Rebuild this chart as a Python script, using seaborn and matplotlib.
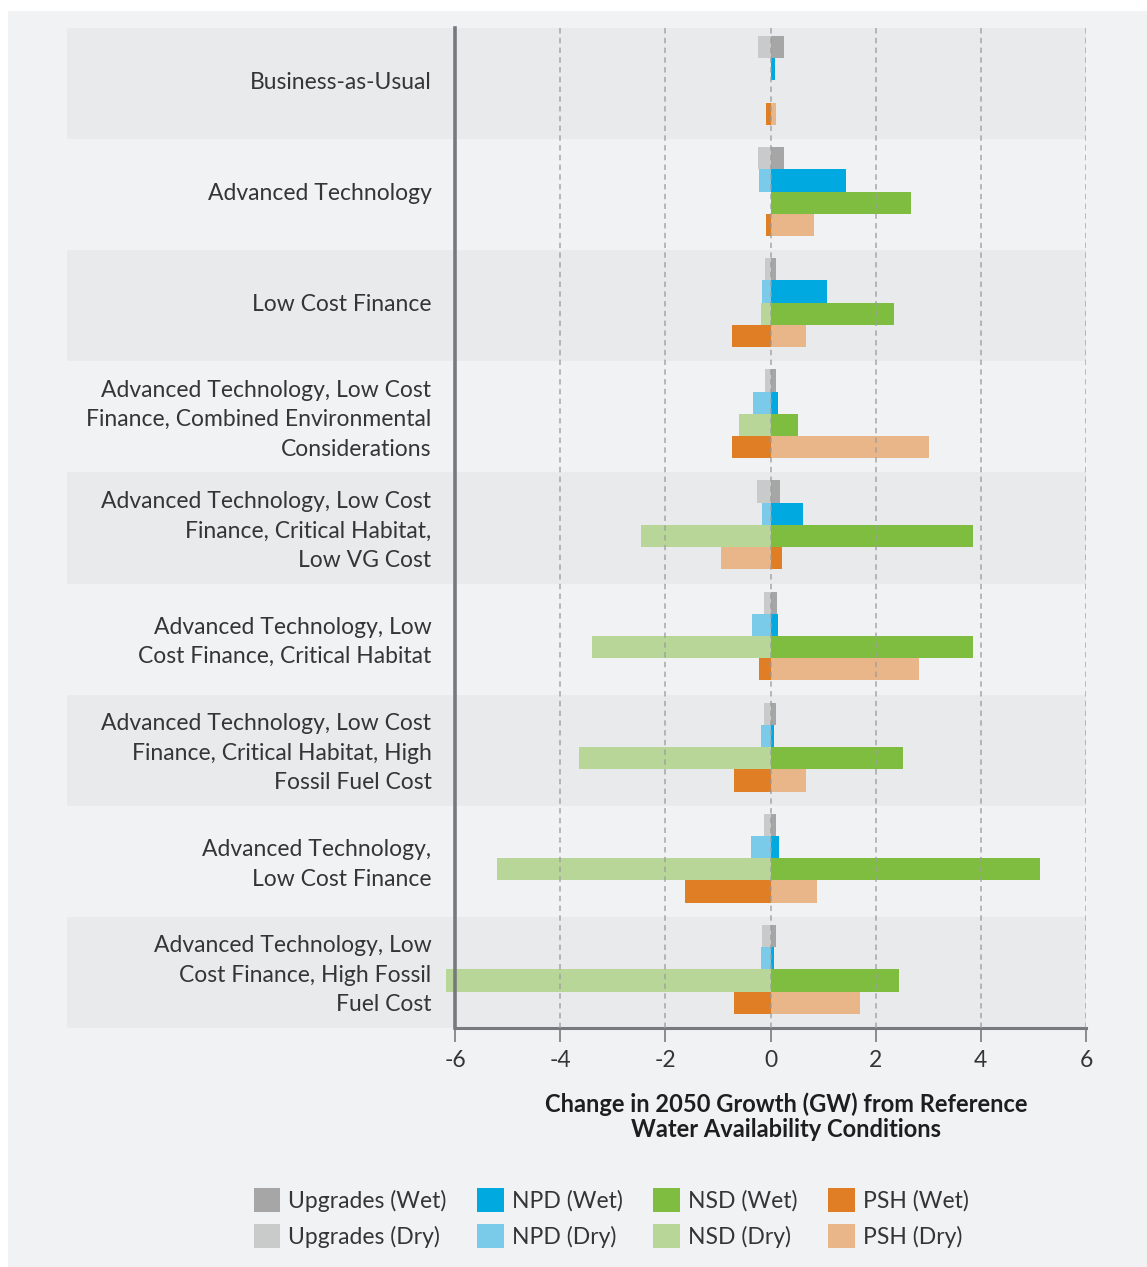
import numpy as np
import pandas as pd
import matplotlib
matplotlib.use("Agg")
import matplotlib.pyplot as plt
import seaborn as sns
from matplotlib.patches import Patch, Rectangle

# ---------------- data ----------------
scenarios = [
    "Business-as-Usual",
    "Advanced Technology",
    "Low Cost Finance",
    "Advanced Technology, Low Cost\nFinance, Combined Environmental\nConsiderations",
    "Advanced Technology, Low Cost\nFinance, Critical Habitat,\nLow VG Cost",
    "Advanced Technology, Low\nCost Finance, Critical Habitat",
    "Advanced Technology, Low Cost\nFinance, Critical Habitat, High\nFossil Fuel Cost",
    "Advanced Technology,\nLow Cost Finance",
    "Advanced Technology, Low\nCost Finance, High Fossil\nFuel Cost",
]
technologies = ["Upgrades", "NPD", "NSD", "PSH"]
conditions = ["Wet", "Dry"]

upgrades_wet = [0.25, 0.25, 0.11, 0.11, 0.19, 0.12, 0.11, 0.11, 0.11]
upgrades_dry = [-0.23, -0.23, -0.11, -0.10, -0.25, -0.12, -0.12, -0.12, -0.16]
npd_wet = [0.08, 1.44, 1.08, 0.15, 0.62, 0.15, 0.07, 0.17, 0.07]
npd_dry = [0.0, -0.21, -0.17, -0.34, -0.17, -0.36, -0.18, -0.37, -0.18]
nsd_wet = [0.0, 2.68, 2.34, 0.53, 3.86, 3.86, 2.52, 5.13, 2.44]
nsd_dry = [0.0, 0.0, -0.19, -0.59, -2.47, -3.39, -3.64, -5.20, -6.17]
psh_wet = [-0.08, -0.08, -0.74, -0.74, 0.22, -0.21, -0.69, -1.62, -0.69]
psh_dry = [0.11, 0.82, 0.68, 3.02, -0.95, 2.83, 0.68, 0.89, 1.71]

x_ticks = [-6, -4, -2, 0, 2, 4, 6]
x_label = "Change in 2050 Growth (GW) from Reference\nWater Availability Conditions"

values = {
    ("Upgrades", "Wet"): upgrades_wet, ("Upgrades", "Dry"): upgrades_dry,
    ("NPD", "Wet"): npd_wet, ("NPD", "Dry"): npd_dry,
    ("NSD", "Wet"): nsd_wet, ("NSD", "Dry"): nsd_dry,
    ("PSH", "Wet"): psh_wet, ("PSH", "Dry"): psh_dry,
}

colors = {
    "Upgrades (Wet)": "#a6a6a6", "Upgrades (Dry)": "#c9caca",
    "NPD (Wet)": "#00a9e0", "NPD (Dry)": "#7acbea",
    "NSD (Wet)": "#7fbd41", "NSD (Dry)": "#b7d697",
    "PSH (Wet)": "#e07e25", "PSH (Dry)": "#e9b689",
}

# ---------------- table ----------------
rows = []
for i, sc in enumerate(scenarios):
    for tech in technologies:
        for cond in conditions:
            rows.append({"slot": f"{i}|{tech}", "series": f"{tech} ({cond})",
                         "value": values[(tech, cond)][i]})
df = pd.DataFrame(rows)

order = []
for i in range(len(scenarios)):
    order += [f"{i}|{t}" for t in technologies] + [f"{i}|gap"]

hue_order = [f"{t} ({c})" for c in ["Dry", "Wet"] for t in technologies]

# ---------------- figure ----------------
BG = "#f1f2f4"
BAND = "#e9eaec"
TXT = "#353537"
FONT = "Lato"
FAM = [FONT, "DejaVu Sans"]

sns.set_theme(style="white")
plt.rcParams["font.family"] = FAM

W, H = 1147, 1267
fig = plt.figure(figsize=(W / 100, H / 100), dpi=100, facecolor="white")
fig.patches.append(Rectangle((8 / W, 0), 1, 1 - 11 / H, transform=fig.transFigure,
                             facecolor=BG, edgecolor="none", zorder=-10))

ax_l, ax_r, ax_t, ax_b = 455, 1086, 28, 1028
ax = fig.add_axes([ax_l / W, 1 - ax_b / H, (ax_r - ax_l) / W, (ax_b - ax_t) / H])
ax.set_facecolor(BG)

sns.barplot(data=df, y="slot", x="value", hue="series", order=order,
            hue_order=hue_order, palette=colors, dodge=False, width=1.0,
            errorbar=None, orient="h", legend=False, ax=ax, zorder=2,
            linewidth=0, saturation=1)
for p in ax.patches:
    p.set_clip_on(False)

top_pad, bot_pad = 0.36, 0.64
band_left = (67 - ax_l) / (ax_r - ax_l)
for i in range(len(scenarios)):
    y0 = 5 * i - 0.5 - top_pad
    y1 = 5 * i + 3.5 + bot_pad
    if i % 2 == 0:
        ax.axhspan(y0, y1, xmin=band_left, xmax=1, facecolor=BAND,
                   edgecolor="none", clip_on=False, zorder=0)

ax.set_ylim(5 * (len(scenarios) - 1) + 3.5 + bot_pad, -0.5 - top_pad)
ax.set_xlim(-6, 6)

# gridlines
for xv in x_ticks[1:]:
    ax.axvline(xv, color="#9d9d9f", lw=1.3, ls=(0, (3, 2.4)), alpha=0.75, zorder=3)

centers = [5 * i + 1.5 + (bot_pad - top_pad) / 2 - 0.15 for i in range(len(scenarios))]
ax.set_yticks(centers)
ax.set_yticklabels(scenarios, fontsize=16.5, color=TXT, ha="right", linespacing=1.5,
                   family=FAM)
ax.tick_params(axis="y", length=0, pad=17)

ax.set_xticks(x_ticks)
ax.set_xticklabels([str(v) for v in x_ticks], fontsize=16.5, color=TXT, family=FAM)
ax.tick_params(axis="x", direction="out", length=10, width=1.4, color="#8c8c8e",
               pad=6, bottom=True)

ax.set_ylabel("")
ax.set_xlabel(x_label, fontsize=17, fontweight="bold", color="#1e1e20",
              linespacing=1.15, family=FAM)
ax.xaxis.set_label_coords((786 - ax_l) / (ax_r - ax_l), -(1092 - ax_b) / (ax_b - ax_t))

for s in ["top", "right"]:
    ax.spines[s].set_visible(False)
ax.spines["left"].set_color("#78797c")
ax.spines["left"].set_linewidth(2.6)
ax.spines["bottom"].set_color("#78797c")
ax.spines["bottom"].set_linewidth(2.2)
ax.spines["left"].set_zorder(5)

# legend
handles = []
for t in technologies:
    for c in conditions:
        lab = f"{t} ({c})"
        handles.append(Patch(facecolor=colors[lab], edgecolor="none", label=lab))
fig.legend(handles=handles, loc="center", bbox_to_anchor=(611 / W, 1 - 1218 / H),
           ncol=4, frameon=False, handlelength=1.15, handleheight=1.2,
           handletextpad=0.35, columnspacing=1.35, labelspacing=0.55,
           labelcolor=TXT, prop={"family": FAM, "size": 16.5})

fig.savefig("out.png", dpi=100, facecolor="white")
